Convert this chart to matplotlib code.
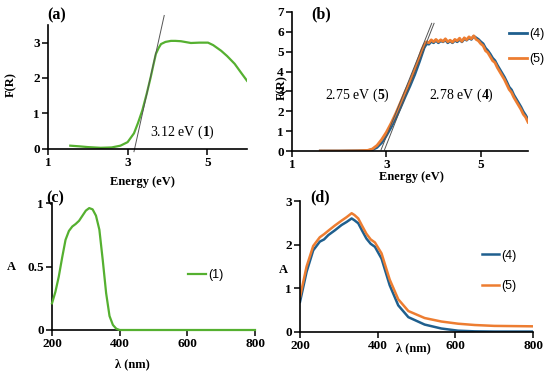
import matplotlib
matplotlib.use("Agg")
import matplotlib.pyplot as plt

plt.rcParams["mathtext.fontset"] = "custom"
plt.rcParams["mathtext.rm"] = "Liberation Serif"
plt.rcParams["mathtext.bf"] = "Liberation Serif:bold"

# (a) Kubelka-Munk, compound 1
energy_a = [1.56, 1.8, 2.0, 2.32, 2.6, 2.82, 3.0, 3.16, 3.26, 3.37, 3.48, 3.58, 3.65, 3.71, 3.78, 3.84,
            3.95, 4.09, 4.2, 4.34, 4.59, 4.8, 5.02, 5.15, 5.35, 5.5, 5.69, 5.85, 6.0]
fr_a = [0.08, 0.06, 0.04, 0.02, 0.03, 0.08, 0.18, 0.43, 0.72, 1.08, 1.55, 2.02, 2.38, 2.68, 2.85, 2.96,
        3.02, 3.05, 3.05, 3.04, 2.99, 3.0, 3.0, 2.93, 2.77, 2.62, 2.4, 2.15, 1.92]
tangent_a_x = [3.16, 3.92]
tangent_a_y = [-0.09, 3.77]

# (b) Kubelka-Munk, compounds 4 and 5
energy_b = [1.6, 2.0, 2.4, 2.6, 2.7, 2.8, 2.9, 3.0, 3.1, 3.2, 3.3, 3.4, 3.5, 3.6, 3.7,
            3.75, 3.8, 3.85, 3.9, 3.95, 4.0, 4.05, 4.1, 4.15, 4.2, 4.25, 4.3, 4.35, 4.4, 4.45,
            4.5, 4.55, 4.6, 4.65, 4.7, 4.75, 4.8, 4.85, 4.9, 4.95, 5.0, 5.05, 5.1, 5.15, 5.2,
            5.25, 5.3, 5.35, 5.4, 5.45, 5.5, 5.55, 5.6, 5.65, 5.7, 5.75, 5.8, 5.85, 5.9, 5.95, 6.0]
fr_4 = [0, 0, 0.01, 0.02, 0.06, 0.18, 0.42, 0.78, 1.2, 1.68, 2.2, 2.75, 3.28, 3.85, 4.5,
        4.85, 5.2, 5.4, 5.38, 5.52, 5.45, 5.58, 5.45, 5.55, 5.5, 5.6, 5.45, 5.55, 5.45, 5.58,
        5.5, 5.62, 5.5, 5.65, 5.58, 5.7, 5.62, 5.78, 5.7, 5.62, 5.5, 5.4, 5.18, 5.05, 4.88,
        4.68, 4.55, 4.32, 4.12, 3.92, 3.72, 3.48, 3.22, 3.08, 2.82, 2.62, 2.42, 2.22, 1.98, 1.8, 1.58]
fr_5 = [0, 0, 0.01, 0.03, 0.1, 0.28, 0.58, 0.95, 1.4, 1.9, 2.45, 3.0, 3.5, 4.1, 4.75,
        5.1, 5.35, 5.5, 5.45, 5.6, 5.5, 5.62, 5.5, 5.6, 5.52, 5.65, 5.5, 5.58, 5.48, 5.62,
        5.55, 5.68, 5.52, 5.7, 5.6, 5.75, 5.65, 5.8, 5.62, 5.55, 5.4, 5.3, 5.05, 4.95, 4.75,
        4.55, 4.45, 4.2, 4.0, 3.8, 3.6, 3.35, 3.1, 2.95, 2.7, 2.5, 2.3, 2.1, 1.85, 1.7, 1.45]
tangent_5_x = [2.885, 3.96]
tangent_5_y = [0.05, 6.43]
tangent_4_x = [2.958, 4.01]
tangent_4_y = [0.05, 6.43]

# (c) absorbance, compound 1
wl_c = [200, 210, 220, 230, 240, 250, 260, 270, 280, 290, 300, 310, 320, 330, 340, 350,
        360, 370, 380, 390, 400, 500, 600, 700, 800]
abs_1 = [0.21, 0.3, 0.42, 0.57, 0.71, 0.78, 0.815, 0.835, 0.86, 0.9, 0.94, 0.96, 0.95, 0.9,
         0.79, 0.55, 0.29, 0.11, 0.04, 0.01, 0.0, 0.0, 0.0, 0.0, 0.0]

# (d) absorbance, compounds 4 and 5
wl_d = [200, 217, 234, 251, 262, 273, 290, 307, 320, 333, 340, 350, 360, 371, 382, 393, 410,
        431, 453, 479, 521, 564, 607, 650, 700, 800]
abs_4 = [0.69, 1.38, 1.87, 2.07, 2.12, 2.22, 2.33, 2.45, 2.52, 2.6, 2.56, 2.49, 2.32, 2.14, 2.02,
         1.95, 1.68, 1.07, 0.61, 0.34, 0.17, 0.08, 0.03, 0.015, 0.01, 0.01]
abs_5 = [0.8, 1.5, 1.97, 2.17, 2.24, 2.32, 2.44, 2.55, 2.63, 2.72, 2.68, 2.6, 2.43, 2.25, 2.12,
         2.05, 1.8, 1.2, 0.75, 0.48, 0.32, 0.24, 0.19, 0.16, 0.14, 0.13]

green = "#55b030"
blue = "#1f5f8e"
orange = "#ed7d31"
serif = "Liberation Serif"
sans = "Liberation Sans"

W, H = 550, 375


def box(l, t, r, b):
    return [l / W, 1 - b / H, (r - l) / W, (b - t) / H]


def ftext(x, y, s, **kw):
    fig.text(x / W, 1 - y / H, s, ha="center", va="center", **kw)


def style(ax):
    for s in ["top", "right"]:
        ax.spines[s].set_visible(False)
    for s in ["left", "bottom"]:
        ax.spines[s].set_linewidth(1.2)
    ax.tick_params(direction="out", length=4, width=1.1, pad=2, labelsize=9.5)
    for lab in ax.get_xticklabels() + ax.get_yticklabels():
        lab.set_fontfamily(serif)
        lab.set_fontweight("bold")


fig = plt.figure(figsize=(5.5, 3.75), dpi=100)
label_kw = dict(fontfamily=serif, fontweight="bold", fontsize=9)
panel_kw = dict(fontfamily=serif, fontweight="bold", fontsize=11.5)
note_kw = dict(fontfamily=serif, fontsize=10, ha="center", va="center")
leg_kw = dict(frameon=False, borderpad=0, borderaxespad=0, handlelength=1.4,
              handletextpad=0.2, prop={"family": sans, "size": 9})

# (a)
ax = fig.add_axes(box(48, 25, 247, 148.5))
ax.plot(energy_a, fr_a, color=green, lw=1.6)
ax.plot(tangent_a_x, tangent_a_y, color="#555555", lw=0.7, clip_on=False)
ax.set_xlim(1, 6)
ax.set_ylim(0, 3.5)
ax.set_xticks([1, 3, 5])
ax.set_yticks([0, 1, 2, 3])
style(ax)
ftext(57, 15, "(a)", **panel_kw)
ftext(11, 85, "F(R)", rotation=90, **label_kw)
ftext(142, 182, "Energy (eV)", **label_kw)
ax.text(4.37, 0.45, r"3.12 eV ($\mathbf{1}$)", **note_kw)

# (b)
ax = fig.add_axes(box(292, 12, 528, 151))
ax.plot(energy_b, fr_4, color=blue, lw=2, label="(4)")
ax.plot(energy_b, fr_5, color=orange, lw=2, label="(5)")
ax.plot(tangent_5_x, tangent_5_y, color="#555555", lw=0.7)
ax.plot(tangent_4_x, tangent_4_y, color="#555555", lw=0.7)
ax.set_xlim(1, 6)
ax.set_ylim(0, 7)
ax.set_xticks([1, 3, 5])
ax.set_yticks(range(8))
style(ax)
ax.legend(loc="center left", bbox_to_anchor=(0.92, 0.75), labelspacing=1.0, **leg_kw)
ftext(321, 14, "(b)", **panel_kw)
ftext(282, 88, "F(R)", rotation=90, **label_kw)
ftext(411, 177, "Energy (eV)", **label_kw)
ax.text(2.38, 2.8, r"2.75 eV ($\mathbf{5}$)", **note_kw)
ax.text(4.59, 2.8, r"2.78 eV ($\mathbf{4}$)", **note_kw)

# (c)
ax = fig.add_axes(box(52, 203, 255, 330))
ax.plot(wl_c, abs_1, color=green, lw=1.6, label="(1)", clip_on=False, zorder=3)
ax.set_xlim(200, 800)
ax.set_ylim(0, 1.0)
ax.set_xticks([200, 400, 600, 800])
ax.set_yticks([0, 0.5, 1])
ax.set_yticklabels(["0", "0.5", "1"])
style(ax)
ax.legend(loc="center left", bbox_to_anchor=(0.67, 0.43), **leg_kw)
ftext(55, 198, "(c)", **panel_kw)
ftext(11, 267, "A", **label_kw)
ftext(132, 364, "λ (nm)", **label_kw)

# (d)
ax = fig.add_axes(box(300, 201, 533, 332))
ax.plot(wl_d, abs_4, color=blue, lw=1.8, label="(4)")
ax.plot(wl_d, abs_5, color=orange, lw=1.8, label="(5)")
ax.set_xlim(200, 800)
ax.set_ylim(0, 3)
ax.set_xticks([200, 400, 600, 800])
ax.set_yticks([0, 1, 2, 3])
style(ax)
ax.legend(loc="center left", bbox_to_anchor=(0.78, 0.466), labelspacing=1.5, **leg_kw)
ftext(320, 197, "(d)", **panel_kw)
ftext(283, 270, "A", **label_kw)
ftext(413, 348, "λ (nm)", **label_kw)

fig.savefig("out.png", dpi=100)
